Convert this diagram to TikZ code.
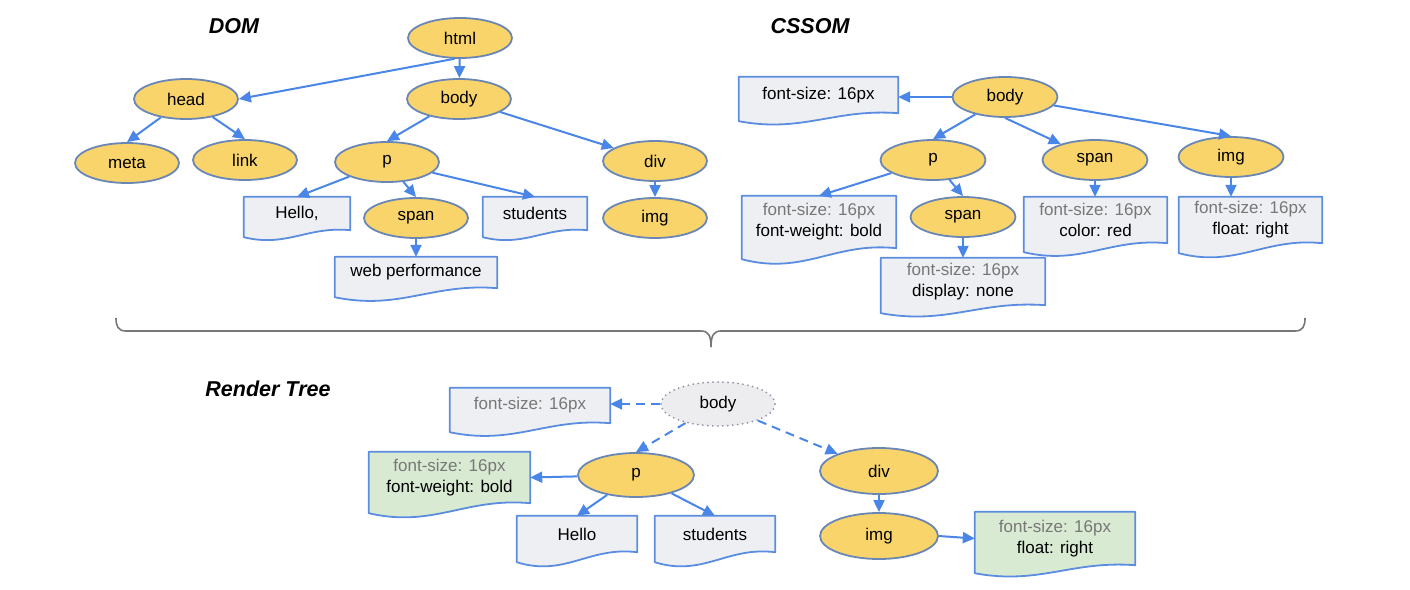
\documentclass[tikz,border=0pt]{standalone}
\usepackage{fontspec}
\setmainfont{Liberation Sans}
\usetikzlibrary{shapes.geometric,arrows.meta,calc}
\pgfdeclarelayer{background}
\pgfsetlayers{background,main}

\definecolor{nodefill}{HTML}{F8D46A}
\definecolor{nodeline}{HTML}{6A86B4}
\definecolor{linkblue}{HTML}{4A86E8}
\definecolor{docfill}{HTML}{EEEFF3}
\definecolor{docline}{HTML}{5A8DE0}
\definecolor{greenfill}{HTML}{D9EAD3}
\definecolor{softtext}{HTML}{777777}
\definecolor{bracecol}{HTML}{777777}
\definecolor{ghostfill}{HTML}{EDEDEF}
\definecolor{ghostline}{HTML}{8E96A8}

\tikzset{
  base/.style={font=\fontsize{17}{21}\selectfont, text=black, inner sep=0pt},
  elem/.style={base, ellipse, draw=nodeline, line width=1.8pt, fill=nodefill,
    minimum width=104pt, minimum height=40pt},
  relem/.style={elem, minimum width=117pt, minimum height=45pt},
  ghost/.style={base, ellipse, draw=ghostline, fill=ghostfill, line width=2pt,
    dash pattern=on 0pt off 5pt, line cap=round,
    minimum width=114pt, minimum height=44pt},
  doc/.style={base, rectangle, align=center},
  title/.style={font=\fontsize{21.5}{24}\selectfont\bfseries\itshape},
  arr/.style={draw=linkblue, line width=2pt, -{Triangle[length=12pt,width=11pt]}},
  darr/.style={arr, dash pattern=on 9pt off 6pt},
}

% document shape behind a node: flat top, wavy bottom, left corner dropped by #3
\newcommand\docshape[3]{%
  \draw[draw=docline, line width=1.8pt, fill=#2, line join=round]
    (#1.north west) -- (#1.north east) -- (#1.south east)
    .. controls ($(#1.south west)!0.6!(#1.south east)+(0,-0.6*#3)$)
    and ($(#1.south west)!0.4!(#1.south east)+(0,2.5*#3)$)
    .. ($(#1.south west)+(0,#3)$) -- cycle;}

\newcommand\soft[1]{\textcolor{softtext}{#1}}

\begin{document}
\begin{tikzpicture}[x=1pt,y=-1pt]
\useasboundingbox (0,0) rectangle (1410,589);

% titles
\node[title] (tdom) at (234,26) {DOM};
\node[title] (tcssom) at (810,26) {CSSOM};
\node[title] (trender) at (268,389) {Render Tree};

% ---------------- DOM ----------------
\node[elem] (html) at (460,38) {html};
\node[elem] (head) at (186,99) {head};
\node[elem] (body) at (459,99) {body};
\node[elem] (meta) at (127,163) {meta};
\node[elem] (link) at (245,160) {link};
\node[elem] (p) at (387,162) {p};
\node[elem] (div) at (655,161) {div};
\node[elem] (span) at (416,218) {span};
\node[elem] (img) at (655,218) {img};
\node[doc, minimum width=106pt, minimum height=33pt] (dhello) at (297,213.5) {Hello,};
\node[doc, minimum width=104pt, minimum height=33pt] (dstud) at (535,213.5) {students};
\node[doc, minimum width=162pt, minimum height=31pt] (dweb) at (416,272.5) {web performance};

% ---------------- CSSOM ----------------
\node[elem, minimum width=105pt] (cbody) at (1005,97) {body};
\node[elem, minimum width=105pt] (cp) at (933,160) {p};
\node[elem, minimum width=105pt] (cspan) at (1095,160) {span};
\node[elem, minimum width=105pt] (cimg) at (1231,157) {img};
\node[elem, minimum width=105pt] (cspan2) at (963,217) {span};
\node[doc, minimum width=159pt, minimum height=36pt] (cfs) at (818.5,95) {font-size: 16px};
\node[doc, minimum width=154pt, minimum height=52pt] (cpbox) at (819,222)
  {\soft{font-size: 16px}\\font-weight: bold};
\node[doc, minimum width=164pt, minimum height=47pt] (cnbox) at (963,281.5)
  {\soft{font-size: 16px}\\display: none};
\node[doc, minimum width=143pt, minimum height=46pt] (csbox) at (1095.5,220)
  {\soft{font-size: 16px}\\color: red};
\node[doc, minimum width=143pt, minimum height=46pt] (cibox) at (1250.5,220)
  {\soft{font-size: 16px}\\float: right};

% ---------------- Render Tree ----------------
\node[ghost] (rbody) at (718,404) {body};
\node[relem, minimum width=116pt, minimum height=44pt] (rp) at (636,475) {p};
\node[relem, minimum width=118pt, minimum height=46pt] (rdiv) at (879,471) {div};
\node[relem, minimum width=118pt, minimum height=46pt] (rimg) at (879,536) {img};
\node[doc, minimum width=160pt, minimum height=35pt] (rfs) at (530,405.5) {\soft{font-size: 16px}};
\node[doc, minimum width=161pt, minimum height=51pt] (rpbox) at (449.5,477.5)
  {\soft{font-size: 16px}\\font-weight: bold};
\node[doc, minimum width=120pt, minimum height=36pt] (rhello) at (577,534) {Hello};
\node[doc, minimum width=120pt, minimum height=36pt] (rstud) at (715,534) {students};
\node[doc, minimum width=160pt, minimum height=53pt] (ribox) at (1055,538.5)
  {\soft{font-size: 16px}\\float: right};

% document outlines behind their texts
\begin{pgfonlayer}{background}
  \docshape{dhello}{docfill}{7}
  \docshape{dstud}{docfill}{7}
  \docshape{dweb}{docfill}{9}
  \docshape{cfs}{docfill}{8}
  \docshape{cpbox}{docfill}{11}
  \docshape{cnbox}{docfill}{8}
  \docshape{csbox}{docfill}{9}
  \docshape{cibox}{docfill}{10}
  \docshape{rfs}{docfill}{9}
  \docshape{rpbox}{greenfill}{10}
  \docshape{rhello}{docfill}{10}
  \docshape{rstud}{docfill}{10}
  \docshape{ribox}{greenfill}{8}
\end{pgfonlayer}

% DOM connectors
\draw[arr] (html.255) -- (head.east);
\draw[arr] (html) -- (body);
\draw[arr] (head) -- (meta.north);
\draw[arr] (head) -- (link.north);
\draw[arr] (body) -- (p.north);
\draw[arr] (body) -- (div);
\draw[arr] (p) -- (dhello.north);
\draw[arr] (p) -- (span.north);
\draw[arr] (p) -- (dstud.north);
\draw[arr] (span) -- (dweb);
\draw[arr] (div) -- (img);

% CSSOM connectors
\draw[arr] (cbody.west) -- (cbody.west -| cfs.east);
\draw[arr] (cbody) -- (cp.north);
\draw[arr] (cbody.south) -- (cspan);
\draw[arr] (cbody) -- (cimg.north);
\draw[arr] (cp) -- (cpbox.north);
\draw[arr] (cp) -- (cspan2.north);
\draw[arr] (cspan2) -- (cnbox);
\draw[arr] (cspan.south) -- (cspan.south |- csbox.north);
\draw[arr] (cimg.south) -- (cimg.south |- cibox.north);

% Render tree connectors
\draw[darr] (rbody.west) -- (rbody.west -| rfs.east);
\draw[darr] (rbody) -- (rp.north);
\draw[darr] (rbody) -- (rdiv);
\draw[arr] (rp) -- (rpbox.east);
\draw[arr] (rp) -- (rhello.north);
\draw[arr] (rp) -- (rstud.north);
\draw[arr] (rdiv) -- (rimg);
\draw[arr] (rimg.east) -- (ribox.west);

% brace joining DOM and CSSOM
\draw[bracecol, line width=1.6pt]
  (116,318) .. controls (116,326) and (118,331) .. (126,331) -- (701,331)
  .. controls (708,331) and (711,335) .. (711,347)
  .. controls (711,335) and (714,331) .. (721,331) -- (1295,331)
  .. controls (1303,331) and (1305,326) .. (1305,318);
\end{tikzpicture}
\end{document}
